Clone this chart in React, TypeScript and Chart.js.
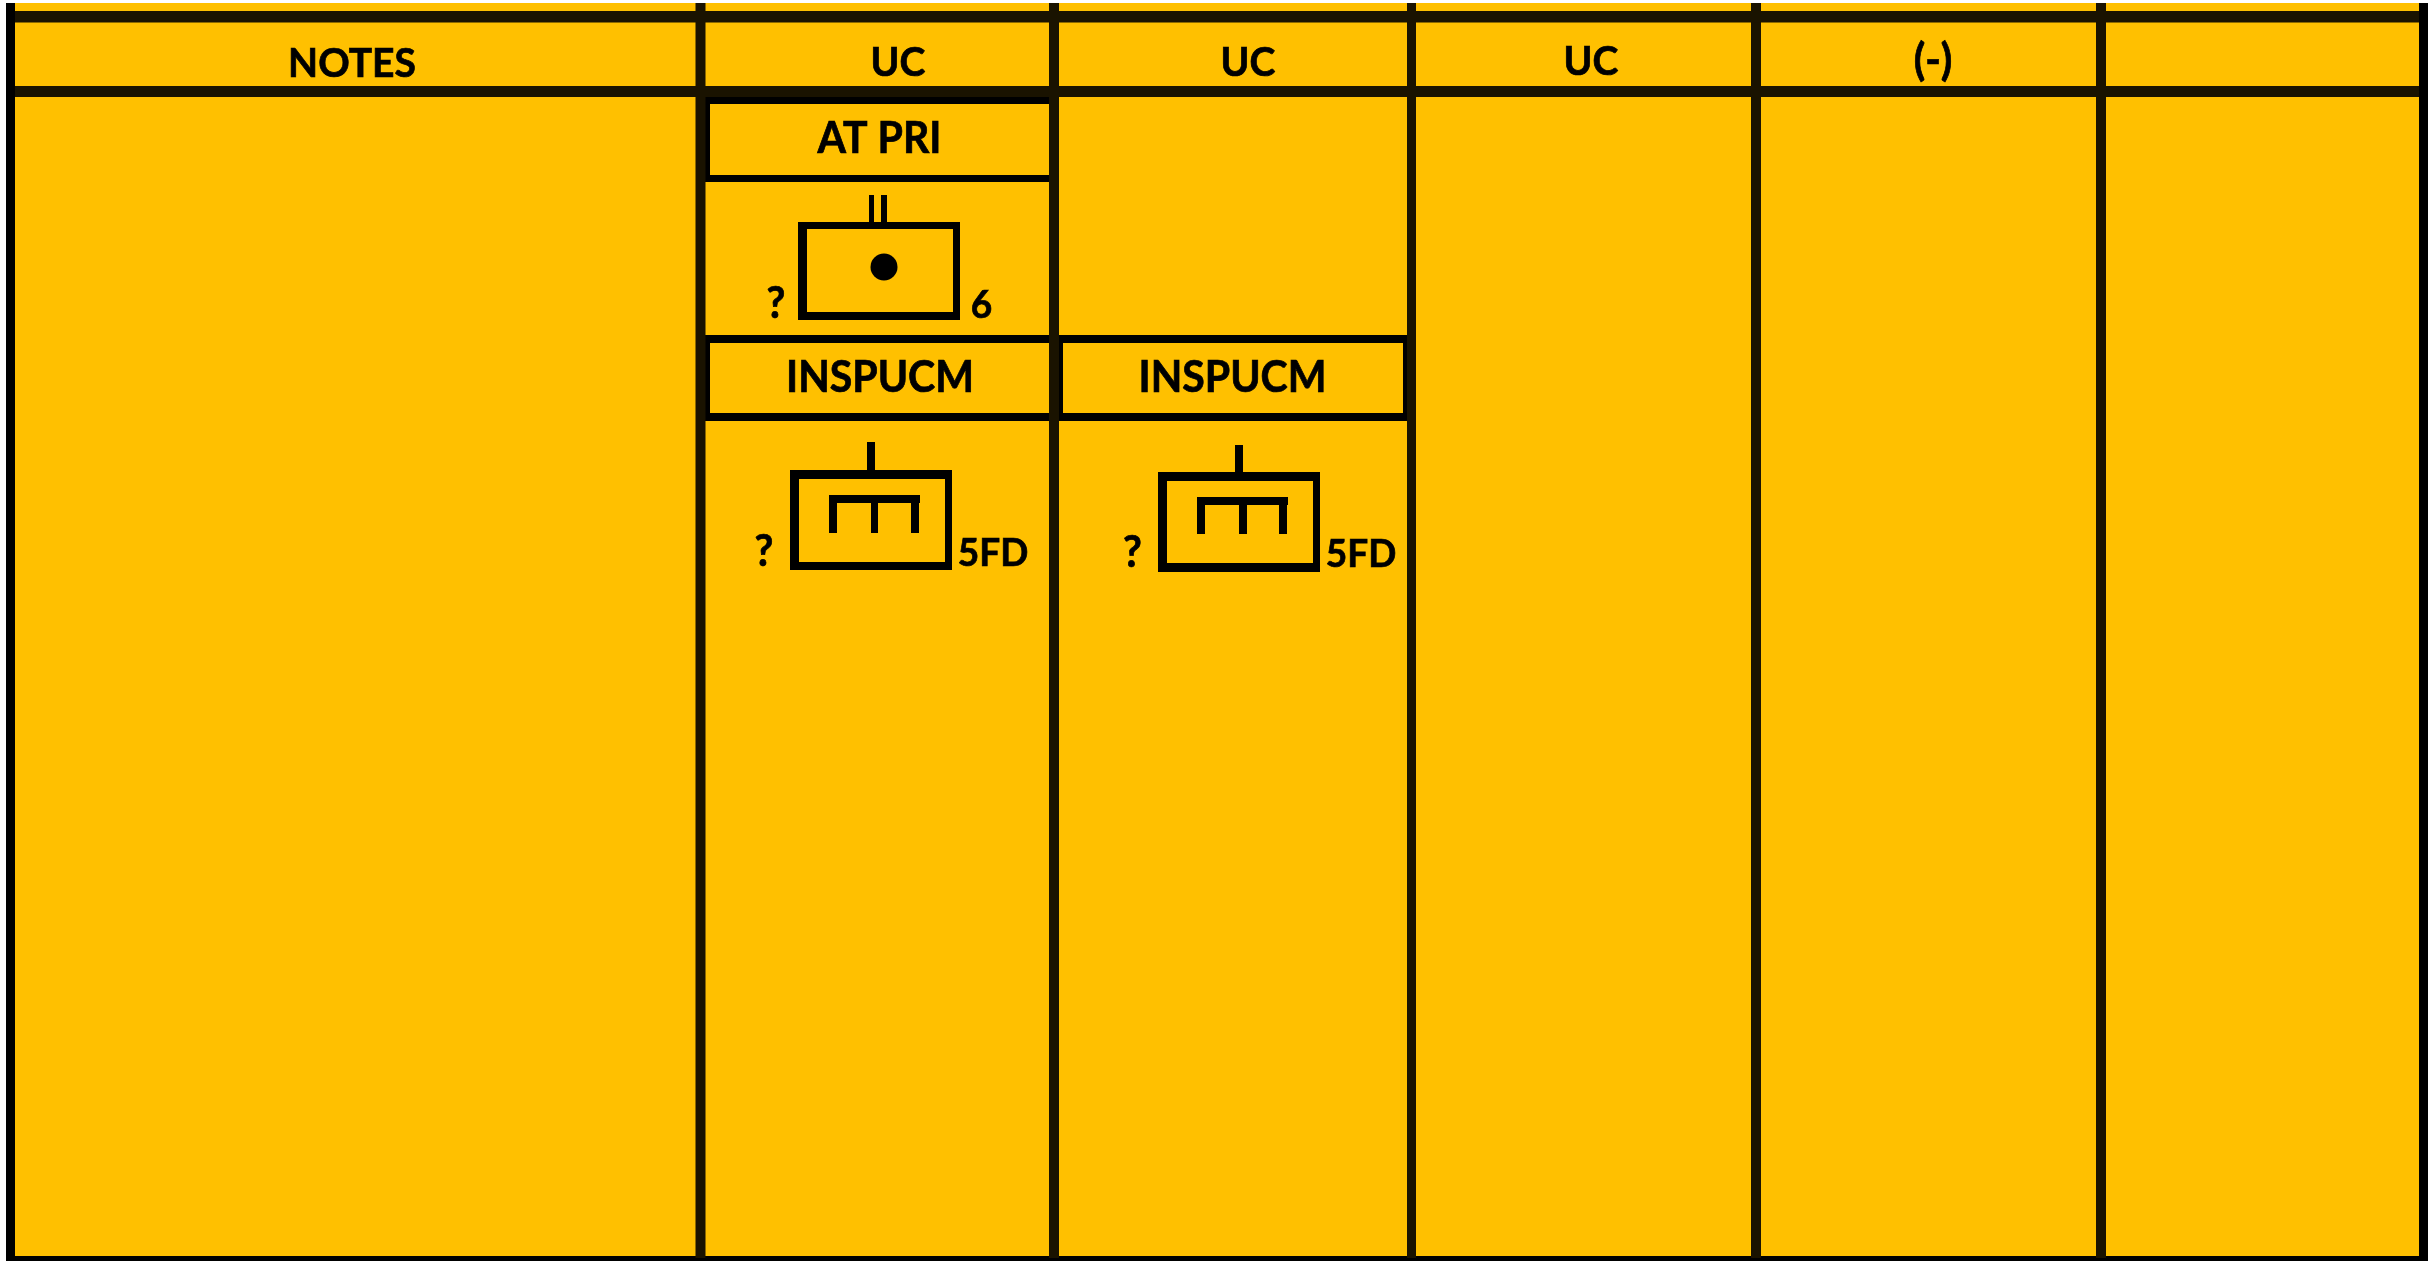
import React, { useEffect, useRef } from "react";
import { Chart, registerables } from "chart.js";

Chart.register(...registerables);

// Content
const headerLabels = ["NOTES", "UC", "UC", "UC"];
const signLabels = ["(-)"];
const unitTitles = ["AT PRI", "INSPUCM", "INSPUCM"];
const sizeLabels = ["6", "5FD", "5FD"];
const queryLabels = ["?", "?", "?"];

// Sheet geometry, in the chart's axis units (x 0-2433, y 0-1261 downward)
const WIDTH = 2433;
const HEIGHT = 1261;
const panel = [6, 3, 2428, 1261];

const headerPositions = [[352, 76.5], [898, 76], [1248, 76], [1591, 75]];
const signPositions = [[1933, 75]];
const titlePositions = [[879.5, 153], [880, 392], [1232.5, 392]];
const sizePositions = [[981.5, 318], [993, 566], [1361, 567]];
const queryPositions = [[776, 318], [764, 566], [1132.5, 567]];

const INK = "#000000";
const RULE = "#1a1300";
const AMBER = "#ffc000";

type Bar = [number, number, number, number];

// Table rules
const outerBars: Bar[] = [[6, 3, 15, 1261], [2419, 3, 2428, 1261], [6, 1256, 2428, 1261]];
const ruleBars: Bar[] = [
  [15, 11, 2419, 22.5],
  [15, 86, 2419, 97],
  [695.5, 3, 705.5, 1258],
  [1049, 3, 1059, 1258],
  [1407, 3, 1416, 1258],
  [1751, 3, 1761, 1258],
  [2096, 3, 2106, 1258],
];
// Title boxes: outer and inner edge
const boxFrames: [Bar, Bar][] = [
  [[703, 96, 1058, 182], [710, 104, 1049, 175]],
  [[703, 335, 1063, 421], [710, 343, 1049, 413]],
  [[1049, 335, 1412, 421], [1062, 343, 1403, 413]],
];
// Unit symbols
const symbolFrames: [Bar, Bar][] = [
  [[798, 222, 960, 320], [807, 229, 953, 312]],
  [[790, 470, 952, 570], [799, 479, 945, 562]],
  [[1158, 472, 1320, 572], [1167, 481, 1313, 563]],
];
const symbolStrokes: Bar[] = [
  [869, 195, 874, 222],
  [881, 195, 887, 222],
  [867, 442, 875, 470],
  [829, 495, 920, 503],
  [829, 495, 837, 533],
  [871, 495, 878, 533],
  [911, 495, 919, 533],
  [1235, 445, 1243, 472],
  [1197, 497, 1288, 505],
  [1197, 497, 1205, 534],
  [1239, 497, 1247, 534],
  [1279, 497, 1287, 534],
];
const dotPoints = [{ x: 884, y: 267 }];

function barDataset(b: Bar, color: string) {
  const [x0, y0, x1, y1] = b;
  const w = x1 - x0;
  const h = y1 - y0;
  const horizontal = w > h;
  const data = horizontal
    ? [{ x: x0, y: (y0 + y1) / 2 }, { x: x1, y: (y0 + y1) / 2 }]
    : [{ x: (x0 + x1) / 2, y: y0 }, { x: (x0 + x1) / 2, y: y1 }];
  return {
    type: "scatter" as const,
    data,
    showLine: true,
    borderColor: color,
    borderWidth: horizontal ? h : w,
    borderCapStyle: "butt" as const,
    pointRadius: 0,
    clip: false as const,
  };
}

function frameBars([o, i]: [Bar, Bar]): Bar[] {
  return [
    [o[0], o[1], o[2], i[1]],
    [o[0], i[3], o[2], o[3]],
    [o[0], o[1], i[0], o[3]],
    [i[2], o[1], o[2], o[3]],
  ];
}

const face = 'Lato, "Open Sans", sans-serif';
const HEADER_FONT = `bold 39px ${face}`;
const SIGN_FONT = `bold 42px ${face}`;
const TITLE_FONT = `bold 41px ${face}`;
const SIZE_FONT = `bold 37px ${face}`;
const QUERY_FONT = `bold 41px ${face}`;
const TEXT_STRETCH = 1.05;
const TEXT_WEIGHT_STROKE = 0.7;

const sheetPlugin = {
  id: "sheet",
  beforeDatasetsDraw(chart: any) {
    const { ctx, scales } = chart;
    const px = (v: number) => scales.x.getPixelForValue(v);
    const py = (v: number) => scales.y.getPixelForValue(v);
    ctx.save();
    ctx.fillStyle = AMBER;
    ctx.fillRect(px(panel[0]), py(panel[1]), px(panel[2]) - px(panel[0]), py(panel[3]) - py(panel[1]));
    ctx.restore();
  },
  afterDatasetsDraw(chart: any) {
    const { ctx, scales } = chart;
    const px = (v: number) => scales.x.getPixelForValue(v);
    const py = (v: number) => scales.y.getPixelForValue(v);
    const put = (labels: string[], pos: number[][], font: string) => {
      ctx.font = font;
      labels.forEach((t, i) => {
        ctx.save();
        ctx.translate(px(pos[i][0]), py(pos[i][1]));
        ctx.scale(1, TEXT_STRETCH);
        ctx.fillText(t, 0, 0);
        ctx.strokeText(t, 0, 0);
        ctx.restore();
      });
    };
    ctx.save();
    ctx.fillStyle = INK;
    ctx.strokeStyle = INK;
    ctx.lineWidth = TEXT_WEIGHT_STROKE;
    ctx.textAlign = "center";
    ctx.textBaseline = "alphabetic";
    put(headerLabels, headerPositions, HEADER_FONT);
    put(signLabels, signPositions, SIGN_FONT);
    put(unitTitles, titlePositions, TITLE_FONT);
    put(sizeLabels, sizePositions, SIZE_FONT);
    put(queryLabels, queryPositions, QUERY_FONT);
    ctx.restore();
  },
};

export default function App() {
  const ref = useRef<HTMLCanvasElement>(null);
  useEffect(() => {
    document.body.style.margin = "0";
    document.body.style.background = "#ffffff";
    document.documentElement.style.overflow = "hidden";
    const datasets: any[] = [
      ...ruleBars.map((b) => barDataset(b, RULE)),
      ...outerBars.map((b) => barDataset(b, INK)),
      ...boxFrames.flatMap(frameBars).map((b) => barDataset(b, INK)),
      ...symbolFrames.flatMap(frameBars).map((b) => barDataset(b, INK)),
      ...symbolStrokes.map((b) => barDataset(b, INK)),
      {
        type: "scatter",
        data: dotPoints,
        pointRadius: 13.5,
        pointBackgroundColor: INK,
        pointBorderWidth: 0,
        showLine: false,
      },
    ];
    const chart = new Chart(ref.current!, {
      type: "scatter",
      data: { datasets },
      options: {
        animation: false,
        responsive: false,
        events: [],
        layout: { padding: 0, autoPadding: false },
        plugins: { legend: { display: false }, tooltip: { enabled: false }, title: { display: false } },
        scales: {
          x: { type: "linear", min: 0, max: WIDTH, display: false },
          y: { type: "linear", min: 0, max: HEIGHT, reverse: true, display: false },
        },
      },
      plugins: [sheetPlugin],
    });
    return () => chart.destroy();
  }, []);
  return (
    <canvas
      ref={ref}
      width={WIDTH}
      height={HEIGHT}
      style={{ display: "block", position: "absolute", left: 0, top: 0, width: WIDTH, height: HEIGHT }}
    />
  );
}
